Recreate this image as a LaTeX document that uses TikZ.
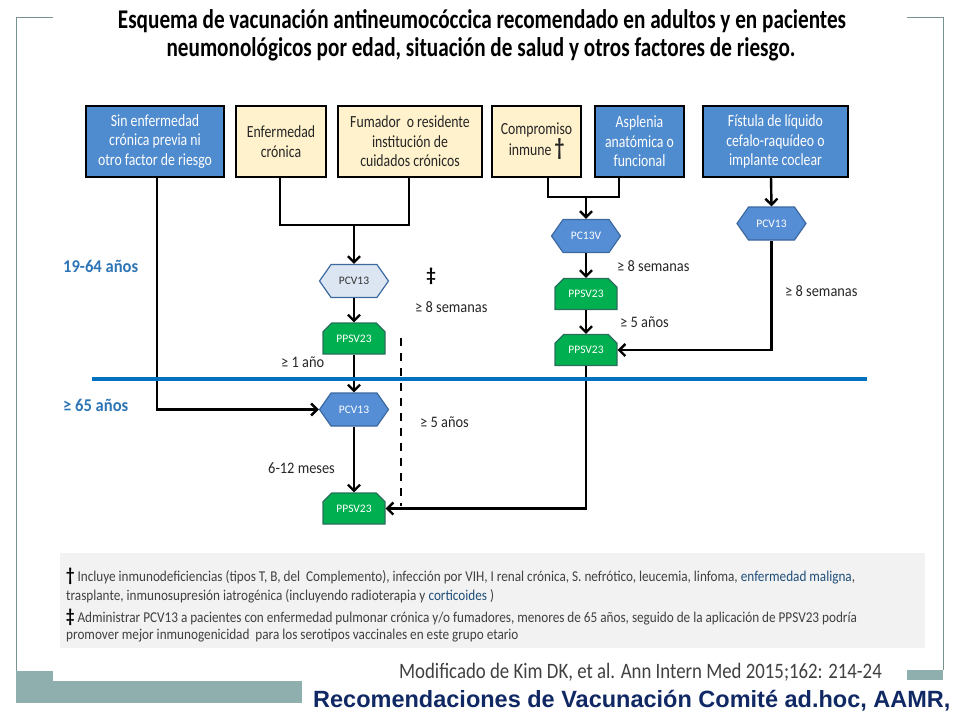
\documentclass[tikz,border=0pt]{standalone}
\usepackage{fontspec}
\setmainfont{Carlito}
\newfontfamily\arialf{Liberation Sans}
\newfontfamily\boxf{Carlito}[FakeStretch=0.81]
\newfontfamily\labf{Carlito}[FakeStretch=0.9]
\newfontfamily\agef{Carlito}[FakeStretch=0.92]
\newfontfamily\titf{Carlito}[FakeStretch=0.785]
\newfontfamily\footf{Carlito}[FakeStretch=0.88]
\newfontfamily\srcf{Carlito}[FakeStretch=0.855]
\usetikzlibrary{arrows.meta,shapes.symbols,shapes.misc}
\definecolor{boxblue}{RGB}{79,139,207}
\definecolor{cream}{RGB}{255,242,204}
\definecolor{hexlight}{RGB}{220,230,242}
\definecolor{hexblue}{RGB}{85,142,213}
\definecolor{hexborder}{RGB}{60,105,160}
\definecolor{grfill}{RGB}{0,176,80}
\definecolor{grborder}{RGB}{40,110,90}
\definecolor{agecol}{RGB}{46,117,182}
\definecolor{lineblue}{RGB}{0,112,192}
\definecolor{footgray}{RGB}{242,242,242}
\definecolor{fblue}{RGB}{31,78,121}
\definecolor{framec}{RGB}{120,145,145}
\definecolor{tealc}{RGB}{143,175,175}
\definecolor{navy}{RGB}{16,40,100}
\definecolor{textgray}{RGB}{64,64,64}
\begin{document}
\begin{tikzpicture}[x=1pt,y=-1pt,
  bbox/.style={draw=black, line width=2.5pt, minimum height=71pt, inner sep=2pt, align=center,
    font=\boxf\fontsize{17}{19.5}\selectfont},
  bluebox/.style={bbox, fill=boxblue, text=white},
  creambox/.style={bbox, fill=cream, text=black!85},
  hexa/.style={signal, signal to=west and east, signal pointer angle=110, draw=hexborder,
    line width=1.2pt, fill=hexblue, minimum width=69pt, minimum height=33pt, inner sep=0pt,
    font=\fontsize{11.5}{13}\selectfont, text=white},
  hexal/.style={hexa, fill=hexlight, text=black!80},
  snip/.style={chamfered rectangle, chamfered rectangle corners={north west, north east},
    chamfered rectangle sep=5pt, draw=grborder, fill=grfill, line width=1.2pt,
    minimum width=62pt, minimum height=31pt, inner sep=0pt,
    font=\fontsize{11.5}{13}\selectfont, text=white},
  lab/.style={font=\labf\fontsize{16}{18}\selectfont, text=black!85, inner sep=0pt},
  age/.style={font=\agef\fontsize{18}{20}\selectfont\bfseries, text=agecol, inner sep=0pt, anchor=west},
  ln/.style={line width=2.4pt},
  arr/.style={line width=2.4pt, -{Straight Barb[length=6pt,width=12pt]}},
  dsh/.style={line width=2.2pt, dash pattern=on 8pt off 7pt},
  foot/.style={font=\footf\fontsize{15}{17}\selectfont, text=textgray, inner sep=0pt, anchor=west}
]
\useasboundingbox (0,0) rectangle (960,720);

% slide frame
\draw[framec, line width=1pt] (53,17) -- (16,17) -- (16,703);
\draw[framec, line width=1pt] (907,17) -- (943,17) -- (943,670);
\fill[tealc] (16,671) rectangle (53,703);
\fill[tealc] (16,681) rectangle (302,703);
\fill[tealc] (907,670) rectangle (943,680);

% title
\node[font=\titf\fontsize{27}{30}\selectfont\bfseries, inner sep=0pt] (t1) at (482,21)
  {Esquema de vacunación antineumocóccica recomendado en adultos y en pacientes};
\node[font=\titf\fontsize{27}{30}\selectfont\bfseries, inner sep=0pt] (t2) at (481,49)
  {neumonológicos por edad, situación de salud y otros factores de riesgo.};

% top boxes
\node[bluebox, minimum width=138pt] (b1) at (155,141.5) {Sin enfermedad\\crónica previa ni\\otro factor de riesgo};
\node[creambox, minimum width=90pt] (b2) at (281,141.5) {Enfermedad\\crónica};
\node[creambox, minimum width=144pt] (b3) at (410,141.5) {Fumador \ o residente\\institución de\\cuidados crónicos};
\node[creambox, minimum width=89pt] (b4) at (536.5,141.5) {Compromiso\\inmune {\bfseries\fontsize{24}{19.5}\selectfont †}};
\node[bluebox, minimum width=89pt] (b5) at (639.5,141.5) {Asplenia\\anatómica o\\funcional};
\node[bluebox, minimum width=145pt] (b6) at (775.5,141.5) {Fístula de líquido\\cefalo-raquídeo o\\implante coclear};

% vaccine shapes
\node[hexal] (pcva) at (354,281) {PCV13};
\node[snip] (ppsva) at (354,338.5) {PPSV23};
\node[hexa] (pcvb) at (354,409.5) {PCV13};
\node[snip] (ppsvb) at (354,508.5) {PPSV23};
\node[hexa] (pc13v) at (586,236) {PC13V};
\node[snip] (ppsvc) at (586,294) {PPSV23};
\node[snip] (ppsvd) at (586,350) {PPSV23};
\node[hexa] (pcvr) at (771.5,223.5) {PCV13};

% labels
\node[age] (a1) at (63,266) {19-64 años};
\node[age] (a2) at (63,405) {≥ 65 años};
\node[font=\fontsize{19}{19}\selectfont\bfseries, inner sep=0pt] (dd) at (431,276) {‡};
\node[lab, anchor=west] (l1) at (415,307) {≥ 8 semanas};
\node[lab, anchor=west] (l2) at (281,362) {≥ 1 año};
\node[lab, anchor=west] (l3) at (420,422) {≥ 5 años};
\node[lab, anchor=west] (l4) at (268,468) {6-12 meses};
\node[lab, anchor=west] (l5) at (617,266) {≥ 8 semanas};
\node[lab, anchor=west] (l6) at (620,322) {≥ 5 años};
\node[lab, anchor=west] (l7) at (785,291) {≥ 8 semanas};

% connector coordinates
\coordinate (b1s) at (157,178);
\coordinate (b2s) at (280,178);
\coordinate (b3s) at (409,178);
\coordinate (j1) at (354,225);
\coordinate (b4s) at (548,177);
\coordinate (b5s) at (619,177);
\coordinate (j2) at (586,197);
\coordinate (b6s) at (771,177);
\coordinate (d1) at (401,338);
\coordinate (d2) at (401,506);

% connectors
\draw[arr] (b1s) |- (pcvb.west);
\draw[ln] (b2s) |- (j1) -| (b3s);
\draw[arr] (j1) -- (pcva.north);
\draw[arr] (pcva.south) -- (ppsva.north);
\draw[arr] (ppsva.south) -- (pcvb.north);
\draw[arr] (pcvb.south) -- (ppsvb.north);
\draw[dsh] (d1) -- (d2);
\draw[ln] (b4s) |- (j2) -| (b5s);
\draw[arr] (j2) -- (pc13v.north);
\draw[arr] (pc13v.south) -- (ppsvc.north);
\draw[arr] (ppsvc.south) -- (ppsvd.north);
\draw[arr] (ppsvd.south) |- (ppsvb.east);
\draw[arr] (b6s) -- (pcvr.north);
\draw[arr] (pcvr.south) |- (ppsvd.east);

% age divider
\draw[lineblue, line width=4pt] (92,379) -- (867,379);

% footnote panel
\fill[footgray] (60,553) rectangle (925,648);
\node[foot] (f1) at (66,576) {{\color{black}\bfseries\fontsize{19}{17}\selectfont †} Incluye inmunodeficiencias (tipos T, B, del \ Complemento), infección por VIH, I renal crónica, S. nefrótico, leucemia, linfoma, \textcolor{fblue}{enfermedad maligna},};
\node[foot] (f2) at (66,596) {trasplante, inmunosupresión iatrogénica (incluyendo radioterapia y \textcolor{fblue}{corticoides} )};
\node[foot] (f3) at (66,617) {{\color{black}\bfseries\fontsize{19}{17}\selectfont ‡} Administrar PCV13 a pacientes con enfermedad pulmonar crónica y/o fumadores, menores de 65 años, seguido de la aplicación de PPSV23 podría};
\node[foot] (f4) at (66,636) {promover mejor inmunogenicidad \ para los serotipos vaccinales en este grupo etario};

% source lines
\node[font=\srcf\fontsize{22}{24}\selectfont, text=textgray, inner sep=0pt, anchor=east] (src) at (882,672)
  {Modificado de Kim DK, et al. Ann Intern Med 2015;162: 214-24};
\node[font=\arialf\fontsize{23.5}{26}\selectfont\bfseries, text=navy, inner sep=0pt, anchor=west] (rec) at (313,701)
  {Recomendaciones de Vacunación Comité ad.hoc, AAMR,};
\end{tikzpicture}
\end{document}
